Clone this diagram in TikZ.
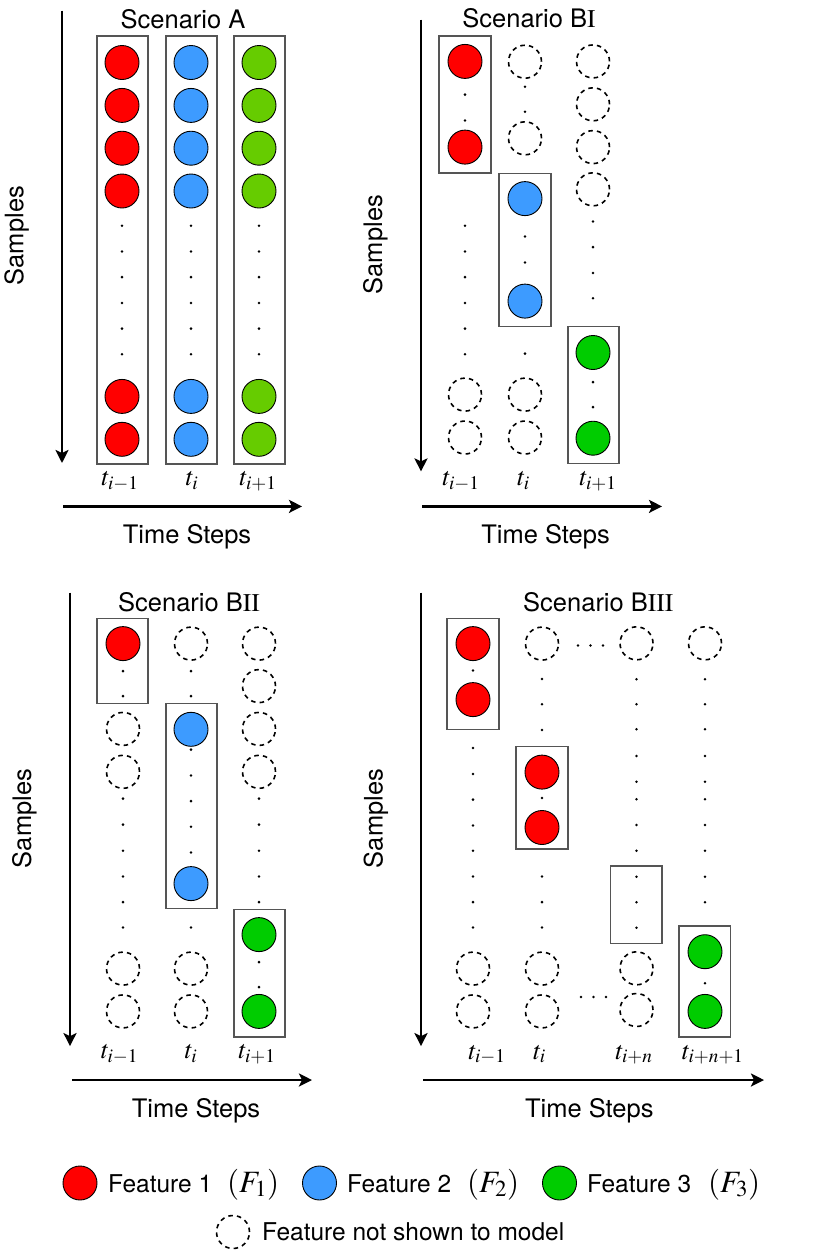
\documentclass[tikz,border=0pt]{standalone}
\usepackage{mathptmx}
\usepackage[no-math]{fontspec}
\setmainfont{TeX Gyre Heros}
\usetikzlibrary{shapes.geometric,arrows.meta}
\definecolor{fred}{HTML}{FF0000}
\definecolor{fblue}{HTML}{3D9BFF}
\definecolor{fgreenA}{HTML}{66CC00}
\definecolor{fgreen}{HTML}{00CC00}
\definecolor{boxgray}{HTML}{555555}
\tikzset{
  feat/.style={circle, draw=black, line width=0.9pt, minimum size=34pt, inner sep=0pt},
  fr/.style={feat, fill=fred},
  fb/.style={feat, fill=fblue},
  fga/.style={feat, fill=fgreenA},
  fg/.style={feat, fill=fgreen},
  hid/.style={circle, draw=black, line width=1.6pt, dash pattern=on 4.5pt off 4.2pt, minimum size=33pt, inner sep=0pt},
  dotn/.style={circle, fill=black, inner sep=0pt, minimum size=2.8pt},
  grp/.style={draw=boxgray, line width=1.3pt},
  axis/.style={line width=2.6pt, -{Stealth[length=13pt,width=13pt,inset=3pt]}},
  txt/.style={font=\fontsize{25.5}{30}\selectfont, inner sep=0pt},
  lbl/.style={font=\fontsize{26}{30}\selectfont, inner sep=0pt, anchor=base},
  leg/.style={font=\fontsize{24.5}{30}\selectfont, inner sep=0pt, anchor=base west},
}
\newcommand{\legmath}[1]{{\fontsize{31}{31}\selectfont$#1$}}
\begin{document}
\begin{tikzpicture}[x=1pt,y=-1pt]
\useasboundingbox (0,0) rectangle (830,1251);

% ================= Scenario A =================
\node[txt] (tA) at (183,19.6) {Scenario A};
\coordinate (Av0) at (62,10.7); \coordinate (Av1) at (62,463);
\draw[axis] (Av0) -- (Av1);
\coordinate (Ah0) at (63,506.4); \coordinate (Ah1) at (302,506.4);
\draw[axis] (Ah0) -- (Ah1);
\node[txt, rotate=90] (sA) at (16.7,235.7) {Samples};
\node[txt] (hA) at (187,537) {Time Steps};
\draw[grp] (97,36) rectangle (148,464);
\draw[grp] (166,36) rectangle (217,464);
\draw[grp] (234,36) rectangle (285,464);
\foreach \y [count=\k] in {62.5,105.4,148.2,191,396.4,439.3} {
  \node[fr] (A1c\k) at (122,\y) {};
  \node[fb] (A2c\k) at (191,\y) {};
  \node[fga] (A3c\k) at (259,\y) {};
}
\foreach \y [count=\k] in {225.7,251.4,277.1,302.9,328.6,354.3} {
  \node[dotn] (A1d\k) at (122,\y) {};
  \node[dotn] (A2d\k) at (191,\y) {};
  \node[dotn] (A3d\k) at (259,\y) {};
}
\node[lbl] (A1t) at (120,485.5) {$t_{i-1}$};
\node[lbl] (A2t) at (192,485.5) {$t_{i}$};
\node[lbl] (A3t) at (258,485.5) {$t_{i+1}$};

% ================= Scenario BI =================
\node[txt] (tB1) at (529,18.4) {Scenario B$\mathrm{I}$};
\coordinate (Bv0) at (421,19.6); \coordinate (Bv1) at (421,471.4);
\draw[axis] (Bv0) -- (Bv1);
\coordinate (Bh0) at (422,506.4); \coordinate (Bh1) at (662,506.4);
\draw[axis] (Bh0) -- (Bh1);
\node[txt, rotate=90] (sB) at (375.5,244.6) {Samples};
\node[txt] (hB) at (545.5,537) {Time Steps};
\draw[grp] (439,36) rectangle (491,172.9);
\draw[grp] (499,173.2) rectangle (551,326.8);
\draw[grp] (568,326.8) rectangle (619,463.6);
% col 1
\foreach \y [count=\k] in {61.4,147.1} \node[fr] (B1c\k) at (465,\y) {};
\foreach \y [count=\k] in {94.6,120.4,225.7,251.4,277.1,302.9,328.6,354.3} \node[dotn] (B1d\k) at (465,\y) {};
\foreach \y [count=\k] in {394.6,437.5} \node[hid] (B1h\k) at (465,\y) {};
% col 2
\foreach \y [count=\k] in {61.7,138.3,394.6,437.5} \node[hid] (B2h\k) at (525,\y) {};
\foreach \y [count=\k] in {86.7,111.7,236.4,262.5,353.6} \node[dotn] (B2d\k) at (525,\y) {};
\foreach \y [count=\k] in {198.6,301.1} \node[fb] (B2c\k) at (525,\y) {};
% col 3
\foreach \y [count=\k] in {61.4,104.3,147.1,189.3} \node[hid] (B3h\k) at (593,\y) {};
\foreach \y [count=\k] in {221.4,247.1,272.9,298.2,382.1,407.1} \node[dotn] (B3d\k) at (593,\y) {};
\foreach \y [count=\k] in {352.5,438.2} \node[fg] (B3c\k) at (593,\y) {};
\node[lbl] (B1t) at (461,485.5) {$t_{i-1}$};
\node[lbl] (B2t) at (523.5,485.5) {$t_{i}$};
\node[lbl] (B3t) at (598,485.5) {$t_{i+1}$};

% ================= Scenario BII =================
\node[txt] (tC) at (189,602) {Scenario B$\mathrm{II}$};
\coordinate (Cv0) at (70,592.5); \coordinate (Cv1) at (70,1046.1);
\draw[axis] (Cv0) -- (Cv1);
\coordinate (Ch0) at (72,1080); \coordinate (Ch1) at (312,1080);
\draw[axis] (Ch0) -- (Ch1);
\node[txt, rotate=90] (sC) at (24.5,818.4) {Samples};
\node[txt] (hC) at (196,1111) {Time Steps};
\draw[grp] (97,618.2) rectangle (148,703.2);
\draw[grp] (166,703.6) rectangle (217,908.6);
\draw[grp] (234,909.3) rectangle (285,1037.1);
% col 1
\node[fr] (C1c1) at (123,643.6) {};
\foreach \y [count=\k] in {671.1,696.1,798.6,824.6,850.7,876.4,902.1,927.5} \node[dotn] (C1d\k) at (123,\y) {};
\foreach \y [count=\k] in {728.9,771.8,968.6,1011.4} \node[hid] (C1h\k) at (123,\y) {};
% col 2
\foreach \y [count=\k] in {643.6,968.6,1011.4} \node[hid] (C2h\k) at (191,\y) {};
\foreach \y [count=\k] in {671.1,696.1,749.6,775.4,801.1,826.8,852.5,927.5} \node[dotn] (C2d\k) at (191,\y) {};
\foreach \y [count=\k] in {729.3,883.6} \node[fb] (C2c\k) at (191,\y) {};
% col 3
\foreach \y [count=\k] in {643.6,686.1,728.9,771.8} \node[hid] (C3h\k) at (259,\y) {};
\foreach \y [count=\k] in {798.6,824.6,850.7,876.4,902.1,962.1,987.1} \node[dotn] (C3d\k) at (259,\y) {};
\foreach \y [count=\k] in {934.6,1011.4} \node[fg] (C3c\k) at (259,\y) {};
\node[lbl] (C1t) at (119.5,1058.5) {$t_{i-1}$};
\node[lbl] (C2t) at (191,1058.5) {$t_{i}$};
\node[lbl] (C3t) at (257,1058.5) {$t_{i+1}$};

% ================= Scenario BIII =================
\node[txt] (tD) at (598.3,602) {Scenario B$\mathrm{III}$};
\coordinate (Dv0) at (421,592.5); \coordinate (Dv1) at (421,1046.1);
\draw[axis] (Dv0) -- (Dv1);
\coordinate (Dh0) at (423,1080); \coordinate (Dh1) at (764,1080);
\draw[axis] (Dh0) -- (Dh1);
\node[txt, rotate=90] (sD) at (375.8,818.4) {Samples};
\node[txt] (hD) at (589.3,1111) {Time Steps};
\draw[grp] (447,618.2) rectangle (499,729.3);
\draw[grp] (516,746.4) rectangle (568,848.9);
\draw[grp] (610.7,866) rectangle (662,943.3);
\draw[grp] (679,926) rectangle (730.7,1037.1);
% col 1
\foreach \y [count=\k] in {643.6,699.6} \node[fr] (D1c\k) at (473,\y) {};
\foreach \y [count=\k] in {670.4,747.9,773.9,799.6,825.4,850.7,876.4,902.1,927.5} \node[dotn] (D1d\k) at (473,\y) {};
\foreach \y [count=\k] in {968.6,1011.4} \node[hid] (D1h\k) at (473,\y) {};
% col 2
\foreach \y [count=\k] in {643.6,968.6,1011.4} \node[hid] (D2h\k) at (542,\y) {};
\foreach \y [count=\k] in {678.9,704.3,730,797.9,876.4,902.1,927.5} \node[dotn] (D2d\k) at (542,\y) {};
\foreach \y [count=\k] in {772.1,827.5} \node[fr] (D2c\k) at (542,\y) {};
% col 3
\foreach \y [count=\k] in {643.3,968.3,1010} \node[hid] (D3h\k) at (636.5,\y) {};
\foreach \y [count=\k] in {679.3,704.3,729.3,756,781.7,799.3,825,850.7,876.7,902.3,927.7} \node[dotn] (D3d\k) at (636.5,\y) {};
% col 4
\node[hid] (D4h1) at (705,643.3) {};
\foreach \y [count=\k] in {679.3,704.3,729.3,756,781.7,799.3,825,850.7,876.7,902.3,983.3} \node[dotn] (D4d\k) at (705,\y) {};
\foreach \y [count=\k] in {951.7,1011.4} \node[fg] (D4c\k) at (705,\y) {};
% horizontal ellipses
\foreach \x [count=\k] in {578,590.5,603} \node[dotn] (Dtop\k) at (\x,645.5) {};
\foreach \x [count=\k] in {581,593.5,606} \node[dotn] (Dbot\k) at (\x,997) {};
\node[lbl] (D1t) at (487,1059) {$t_{i-1}$};
\node[lbl] (D2t) at (539.5,1059) {$t_{i}$};
\node[lbl] (D3t) at (634,1059) {$t_{i+n}$};
\node[lbl] (D4t) at (712.8,1059) {$t_{i+n+1}$};

% ================= Legend =================
\node[fr] (L1) at (80,1183) {};
\node[leg] (L1a) at (108,1192) {Feature 1\hspace{15pt}\legmath{(F_1)}};
\node[fb] (L2) at (319.5,1183) {};
\node[leg] (L2a) at (347,1192) {Feature 2\hspace{16pt}\legmath{(F_2)}};
\node[fg] (L3) at (559.5,1183) {};
\node[leg] (L3a) at (587,1192) {Feature 3\hspace{17pt}\legmath{(F_3)}};
\node[hid] (L4) at (233,1232) {};
\node[leg] (L4a) at (262,1240.7) {Feature not shown to model};
\end{tikzpicture}
\end{document}
